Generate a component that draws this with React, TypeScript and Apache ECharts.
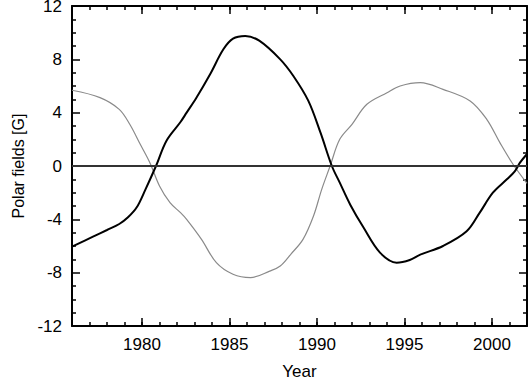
import React, { useEffect, useRef } from "react";
import * as echarts from "echarts";

const blackYears = [1976.0, 1977.2, 1978.0, 1978.7, 1979.2, 1979.7, 1980.2, 1980.8, 1981.4, 1982.2, 1982.55, 1983.1, 1983.9, 1984.65, 1985.2, 1985.9, 1986.7, 1987.9, 1988.65, 1989.5, 1990.2, 1990.85, 1991.3, 1991.9, 1992.65, 1993.6, 1994.55, 1995.3, 1995.9, 1997.2, 1998.55, 1999.3, 2000.05, 2000.85, 2001.3, 2001.6, 2002.0];
const blackValues = [-6.05, -5.3, -4.8, -4.35, -3.85, -3.1, -1.75, 0, 1.9, 3.3, 4.0, 5.1, 6.9, 8.75, 9.55, 9.75, 9.4, 8.0, 6.75, 4.9, 2.5, 0, -1.25, -2.9, -4.6, -6.5, -7.25, -7.05, -6.65, -6.0, -4.9, -3.5, -2.0, -1.0, -0.4, 0.25, 0.9];

const grayYears = [1976.0, 1977.6, 1978.7, 1979.3, 1979.9, 1980.45, 1981.0, 1981.6, 1982.2, 1982.55, 1983.4, 1984.25, 1985.2, 1986.2, 1987.3, 1987.9, 1988.5, 1989.2, 1989.8, 1990.27, 1990.75, 1991.3, 1992.0, 1992.85, 1994.0, 1994.75, 1995.9, 1997.2, 1998.75, 1999.7, 2000.45, 2001.2, 2002.0];
const grayValues = [5.68, 5.13, 4.25, 3.13, 1.63, 0.25, -1.5, -2.75, -3.5, -4.0, -5.5, -7.25, -8.12, -8.37, -7.88, -7.5, -6.62, -5.5, -3.75, -1.75, 0, 2.0, 3.13, 4.63, 5.5, 6.0, 6.25, 5.75, 4.88, 3.5, 1.75, 0.13, -1.3];

const xMin = 1976;
const xMax = 2002;
const xLabelStep = 5;
const xMajorTicks = [1980, 1985, 1990, 1995, 2000];
const yMin = -12;
const yMax = 12;
const yInterval = 4;

const FONT = "'Liberation Sans', Arial, Helvetica, sans-serif";

function pairs(xs: number[], ys: number[]) {
  return xs.map((x, i) => [x, ys[i]]);
}

export default function App() {
  const ref = useRef<HTMLDivElement>(null);
  useEffect(() => {
    if (!ref.current) return;
    const chart = echarts.init(ref.current, undefined, { renderer: "svg" });
    const tl = () => ({ color: "#000", width: 1.5 });
    const frameLine = () => ({ show: true, onZero: false, lineStyle: { color: "#000", width: 2 } });
    const xAxisCommon = (pos: "top" | "bottom") => ({
      type: "value" as const,
      min: xMin,
      max: xMax,
      position: pos,
      splitLine: { show: false },
    });
    const yAxisCommon = (pos: "left" | "right") => ({
      type: "value" as const,
      min: yMin,
      max: yMax,
      interval: yInterval,
      position: pos,
      splitLine: { show: false },
      minorSplitLine: { show: false },
      axisLine: frameLine(),
      axisTick: { show: true, inside: true, length: 8, lineStyle: tl() },
      minorTick: { show: true, splitNumber: 4, length: 4, lineStyle: tl() },
    });
    chart.setOption({
      animation: false,
      backgroundColor: "#fff",
      grid: { left: 72, right: 1, top: 6, bottom: 54, outerBoundsMode: "none" },
      xAxis: [
        {
          ...xAxisCommon("bottom"),
          interval: 1,
          axisLine: frameLine(),
          axisTick: { show: true, inside: true, length: 4, lineStyle: tl() },
          axisLabel: {
            formatter: (v: number) => (v % xLabelStep === 0 ? String(v) : ""),
            color: "#000",
            fontSize: 17,
            fontFamily: FONT,
            margin: 10,
            hideOverlap: false,
            interval: 0,
          },
          name: "Year",
          nameLocation: "middle",
          nameGap: 37,
          nameTextStyle: { color: "#000", fontSize: 17, fontFamily: FONT },
        },
        {
          ...xAxisCommon("bottom"),
          axisLine: { show: false, onZero: false },
          axisTick: { show: true, inside: true, length: 8, customValues: xMajorTicks, lineStyle: tl() },
          axisLabel: { show: false },
        },
        {
          ...xAxisCommon("top"),
          interval: 1,
          axisLine: frameLine(),
          axisTick: { show: true, inside: true, length: 4, lineStyle: tl() },
          axisLabel: { show: false },
        },
        {
          ...xAxisCommon("top"),
          axisLine: { show: false, onZero: false },
          axisTick: { show: true, inside: true, length: 8, customValues: xMajorTicks, lineStyle: tl() },
          axisLabel: { show: false },
        },
      ],
      yAxis: [
        {
          ...yAxisCommon("left"),
          axisLabel: { color: "#000", fontSize: 17, fontFamily: FONT, margin: 10 },
          name: "Polar fields [G]",
          nameLocation: "middle",
          nameGap: 44,
          nameRotate: 90,
          nameTextStyle: { color: "#000", fontSize: 16, fontFamily: FONT },
        },
        {
          ...yAxisCommon("right"),
          axisLabel: { show: false },
        },
      ],
      series: [
        {
          type: "line",
          data: pairs(grayYears, grayValues),
          smooth: 0.35,
          showSymbol: false,
          symbol: "none",
          lineStyle: { color: "#8a8a8a", width: 1.2 },
          markLine: {
            silent: true,
            symbol: ["none", "none"],
            label: { show: false },
            lineStyle: { color: "#333", width: 2, type: "solid" },
            data: [{ yAxis: 0 }],
          },
        },
        {
          type: "line",
          data: pairs(blackYears, blackValues),
          smooth: 0.35,
          showSymbol: false,
          symbol: "none",
          lineStyle: { color: "#000", width: 2 },
        },
      ],
    });
    return () => chart.dispose();
  }, []);
  return (
    <div ref={ref} style={{ position: "fixed", left: 0, top: 0, width: 528, height: 380, background: "#fff" }} />
  );
}
